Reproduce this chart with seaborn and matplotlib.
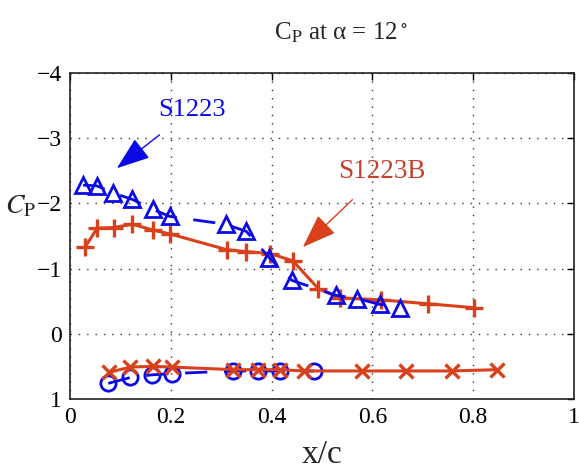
import matplotlib
matplotlib.use("Agg")
import matplotlib.pyplot as plt
import seaborn as sns
import numpy as np
import pandas as pd

# ---- data ----
s1223_up_x = [0.026, 0.053, 0.086, 0.124, 0.164, 0.198, 0.309, 0.350, 0.395, 0.440, 0.528, 0.570, 0.615, 0.655]
s1223_up_cp = [-2.28, -2.27, -2.16, -2.06, -1.91, -1.80, -1.68, -1.57, -1.17, -0.82, -0.59, -0.54, -0.45, -0.40]

s1223_lo_x = [0.076, 0.120, 0.162, 0.202, 0.324, 0.374, 0.417, 0.484]
s1223_lo_cp = [0.76, 0.67, 0.63, 0.61, 0.57, 0.57, 0.57, 0.57]

s1223b_up_x = [0.030, 0.054, 0.087, 0.124, 0.165, 0.199, 0.311, 0.350, 0.397, 0.442, 0.493, 0.536, 0.618, 0.711, 0.802]
s1223b_up_cp = [-1.33, -1.62, -1.63, -1.68, -1.59, -1.53, -1.29, -1.26, -1.23, -1.12, -0.69, -0.55, -0.52, -0.46, -0.40]

s1223b_lo_x = [0.078, 0.120, 0.164, 0.202, 0.324, 0.374, 0.417, 0.465, 0.579, 0.667, 0.757, 0.848]
s1223b_lo_cp = [0.59, 0.51, 0.50, 0.51, 0.55, 0.55, 0.55, 0.57, 0.57, 0.57, 0.57, 0.55]

x_ticks = [0, 0.2, 0.4, 0.6, 0.8, 1]
x_tick_labels = ["0", "0.2", "0.4", "0.6", "0.8", "1"]
y_ticks = [-4, -3, -2, -1, 0, 1]
y_tick_labels = ["\u22124", "\u22123", "\u22122", "\u22121", "0", "1"]

BLUE = "#0a0ae6"
RED = "#d9401c"
RED_TXT = "#c8402c"

sns.set_style("white")
plt.rcParams["font.family"] = ["Liberation Serif", "DejaVu Serif"]
plt.rcParams["mathtext.fontset"] = "stix"

fig = plt.figure(figsize=(5.79, 4.73), dpi=100)
ax = fig.add_axes([70 / 579, 1 - 399 / 473, (574 - 70) / 579, (399 - 73) / 473])

dash = (0, (8, 6))
common = dict(ax=ax, sort=False, estimator=None, legend=False)

sns.lineplot(x=s1223b_up_x, y=s1223b_up_cp, color=RED, lw=2.2, marker="+",
             markersize=13, mew=2.4, mec=RED, zorder=3, **common)
sns.lineplot(x=s1223b_lo_x, y=s1223b_lo_cp, color=RED, lw=2.2, marker="x",
             markersize=10, mew=2.4, mec=RED, zorder=3, **common)
sns.lineplot(x=s1223_up_x, y=s1223_up_cp, color=BLUE, lw=2.0, linestyle=dash,
             marker="^", markersize=12, mew=2.0, mec=BLUE, markerfacecolor="none",
             zorder=4, **common)
sns.lineplot(x=s1223_lo_x, y=s1223_lo_cp, color=BLUE, lw=2.0, linestyle=dash,
             marker="o", markersize=11, mew=2.0, mec=BLUE, markerfacecolor="none",
             zorder=2, **common)

ax.set_xlim(0, 1)
ax.set_ylim(1, -4)
ax.set_xticks(x_ticks)
ax.set_xticklabels(x_tick_labels)
ax.set_yticks(y_ticks)
ax.set_yticklabels(y_tick_labels)
ax.tick_params(direction="in", length=5, width=1, top=True, right=True,
               labelsize=17, pad=6, colors="black")
ax.grid(True, linestyle=(0, (1, 5)), color="#333333", lw=1)
for sp in ax.spines.values():
    sp.set_visible(True)
    sp.set_color("#222222")
    sp.set_linewidth(1.2)

# annotations
ax.annotate("S1223", xy=(0.093, -2.54), xytext=(0.242, -3.44),
            color=BLUE, fontsize=19, ha="center", va="center",
            arrowprops=dict(arrowstyle="-|>,head_length=1.1,head_width=0.4",
                            color=BLUE, lw=1.0, shrinkA=13, shrinkB=0))
ax.annotate("S1223B", xy=(0.462, -1.33), xytext=(0.619, -2.49),
            color=RED_TXT, fontsize=19.5, ha="center", va="center",
            arrowprops=dict(arrowstyle="-|>,head_length=1.1,head_width=0.4",
                            color=RED, lw=1.0, shrinkA=13, shrinkB=0))

fig.text(341 / 579, 1 - 33 / 473, "C$_\\mathrm{P}$ at \u03b1 = 12$^\\circ$",
         ha="center", va="center", fontsize=18)
fig.text(322 / 579, 1 - 455 / 473, "x/c", ha="center", va="center", fontsize=24)
fig.text(21 / 579, 1 - 207 / 473, r"$C_\mathrm{P}$", ha="center", va="center", fontsize=20)

fig.savefig("out.png", dpi=100)
